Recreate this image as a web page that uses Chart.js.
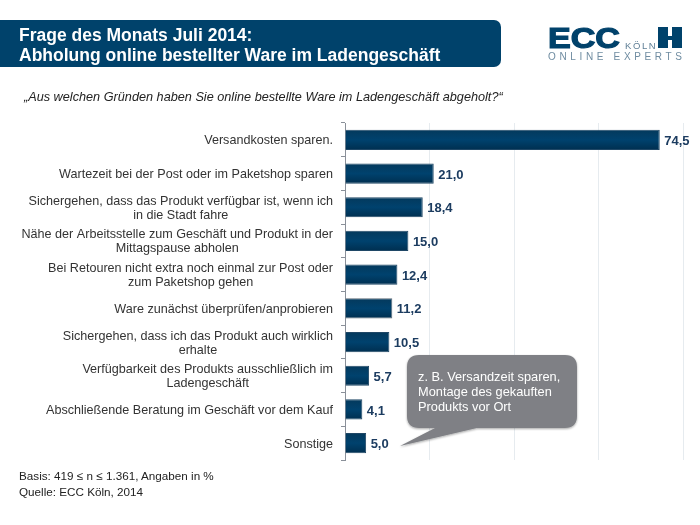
<!DOCTYPE html>
<html lang="de">
<head>
<meta charset="utf-8">
<title>Frage des Monats Juli 2014</title>
<script src="https://cdn.jsdelivr.net/npm/chart.js@4"></script>
<style>
  body { margin: 0; background: #fff; font-family: "Liberation Sans", Arial, sans-serif; }
  #page { position: relative; width: 700px; height: 525px; overflow: hidden; }
  #page > * { position: absolute; }
  #chart { left: 0; top: 0; }
  #banner { left: 0; top: 20px; width: 501px; height: 47px; background: #00426b; border-radius: 0 7px 7px 0; }
  #heading { left: 19px; top: 25px; color: #fff; font-weight: bold; font-size: 17.5px; line-height: 20px; white-space: nowrap; }
  #question { left: 24px; top: 90px; font-style: italic; font-size: 12.7px; color: #222; white-space: nowrap; }
  #note { left: 19px; top: 468px; font-size: 11.7px; line-height: 16px; color: #222; white-space: nowrap; }
  #logo { left: 0; top: 0; }
  #bubble { left: 0; top: 0; }
</style>
</head>
<body>
<div id="page">
  <canvas id="chart" width="700" height="525"></canvas>
  <div id="banner"></div>
  <div id="heading">Frage des Monats Juli 2014:<br>Abholung online bestellter Ware im Ladengeschäft</div>
  <div id="question">„Aus welchen Gründen haben Sie online bestellte Ware im Ladengeschäft abgeholt?“</div>
  <div id="note">Basis: 419 ≤ n ≤ 1.361, Angaben in %<br>Quelle: ECC Köln, 2014</div>

  <svg id="logo" width="700" height="80">
    <text x="548" y="48" font-family="Liberation Sans" font-weight="bold" font-size="30" fill="#00426b" stroke="#00426b" stroke-width="1.2" textLength="72" lengthAdjust="spacingAndGlyphs">ECC</text>
    <text x="625" y="49" font-family="Liberation Sans" font-size="9.5" fill="#5f7f96" letter-spacing="1.6">KÖLN</text>
    <rect x="658" y="27" width="10" height="21" fill="#00426b"></rect>
    <rect x="672" y="27" width="10" height="21" fill="#00426b"></rect>
    <rect x="668" y="36" width="4" height="4" fill="#00426b"></rect>
    <text x="548" y="60" font-family="Liberation Sans" font-size="10" fill="#6f8ca1" textLength="134">ONLINE EXPERTS</text>
  </svg>

  <svg id="bubble" width="700" height="525">
    <defs>
      <filter id="soft" x="-10%" y="-10%" width="120%" height="120%">
        <feDropShadow dx="0" dy="1" stdDeviation="1" flood-color="#000" flood-opacity="0.35"></feDropShadow>
      </filter>
    </defs>
    <path d="M419 355 H565 Q577 355 577 367 V416 Q577 428 565 428 H477 L400 446 L435 428 H419 Q407 428 407 416 V367 Q407 355 419 355 Z" fill="#7f8085" filter="url(#soft)"></path>
    <text font-family="Liberation Sans" font-size="12.8" fill="#fff">
      <tspan x="418" y="381">z. B. Versandzeit sparen,</tspan>
      <tspan x="418" y="396">Montage des gekauften</tspan>
      <tspan x="418" y="411">Produkts vor Ort</tspan>
    </text>
  </svg>
</div>

<script>
const categories = [
  ['Versandkosten sparen.'],
  ['Wartezeit bei der Post oder im Paketshop sparen'],
  ['Sichergehen, dass das Produkt verfügbar ist, wenn ich', 'in die Stadt fahre'],
  ['Nähe der Arbeitsstelle zum Geschäft und Produkt in der', 'Mittagspause abholen'],
  ['Bei Retouren nicht extra noch einmal zur Post oder', 'zum Paketshop gehen'],
  ['Ware zunächst überprüfen/anprobieren'],
  ['Sichergehen, dass ich das Produkt auch wirklich', 'erhalte'],
  ['Verfügbarkeit des Produkts ausschließlich im', 'Ladengeschäft'],
  ['Abschließende Beratung im Geschäft vor dem Kauf'],
  ['Sonstige']
];
const shares = [74.5, 21.0, 18.4, 15.0, 12.4, 11.2, 10.5, 5.7, 4.1, 5.0];

const labelFont = '12.6px "Liberation Sans"';

// category text: single lines sit right at the axis, two-liners are centred in their block
const categoryText = {
  id: 'categoryText',
  afterDraw(chart) {
    const { ctx, scales: { y } } = chart;
    const rightEdge = y.right - 12;
    ctx.save();
    ctx.font = labelFont;
    ctx.fillStyle = '#333';
    ctx.textBaseline = 'middle';
    ctx.textAlign = 'center';
    categories.forEach((lines, i) => {
      const widest = Math.max(...lines.map(l => ctx.measureText(l).width));
      const top = y.getPixelForTick(i) + 1 - (lines.length - 1) * 7;
      lines.forEach((line, n) => ctx.fillText(line, rightEdge - widest / 2, top + n * 14));
    });
    ctx.restore();
  }
};

const valueText = {
  id: 'valueText',
  afterDatasetsDraw(chart) {
    const { ctx } = chart;
    ctx.save();
    ctx.font = 'bold 13px "Liberation Sans"';
    ctx.fillStyle = '#1c3c60';
    ctx.textBaseline = 'middle';
    chart.getDatasetMeta(0).data.forEach((bar, i) => {
      ctx.fillText(shares[i].toFixed(1).replace('.', ','), bar.x + 4.5, bar.y + 1.5);
    });
    ctx.restore();
  }
};

new Chart(document.getElementById('chart'), {
  type: 'bar',
  data: {
    labels: categories,
    datasets: [{
      data: shares,
      barPercentage: 0.6,
      categoryPercentage: 1,
      borderWidth: 1,
      borderColor: context => (context.dataIndex === 5 ? '#5c6b78' : '#1f4766'),
      borderSkipped: 'left',
      backgroundColor(context) {
        const { chart, dataIndex } = context;
        if (!chart.scales.y) return '#00426b';
        const mid = chart.scales.y.getPixelForTick(dataIndex);
        const fill = chart.ctx.createLinearGradient(0, mid - 10, 0, mid + 10);
        fill.addColorStop(0, '#04395c');
        fill.addColorStop(0.5, '#00426e');
        fill.addColorStop(1, '#002f50');
        return fill;
      }
    }]
  },
  options: {
    indexAxis: 'y',
    responsive: false,
    animation: false,
    layout: { padding: { left: 341, right: 17, top: 123, bottom: 65 } },
    plugins: { legend: { display: false }, tooltip: { enabled: false } },
    scales: {
      x: {
        min: 0,
        max: 80,
        ticks: { display: false, stepSize: 20 },
        grid: { color: '#e6ebef', drawTicks: false },
        border: { display: false }
      },
      y: {
        ticks: { display: false },
        grid: { drawOnChartArea: false, color: '#8a9099', tickLength: 4, offset: true },
        border: { color: '#8a9099' }
      }
    }
  },
  plugins: [categoryText, valueText]
});
</script>
</body>
</html>
